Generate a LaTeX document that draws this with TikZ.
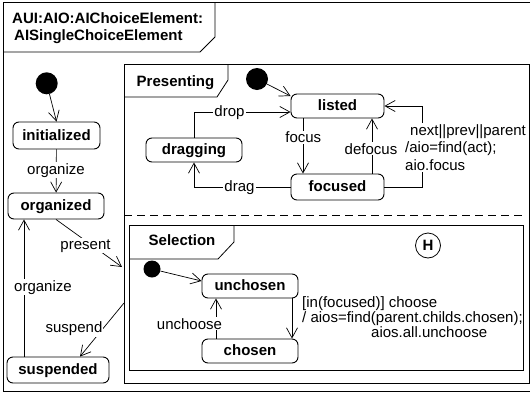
\documentclass[tikz,border=0pt]{standalone}
\usepackage{fontspec}
\setmainfont{Liberation Sans}
\usetikzlibrary{arrows.meta,calc}
\begin{document}
\begin{tikzpicture}[x=1pt,y=-1pt,
  every node/.style={font=\fontsize{15}{17}\selectfont},
  stbox/.style={draw, line width=0.9pt, rounded corners=6pt, inner sep=0pt,
    font=\bfseries\fontsize{15}{17}\selectfont, text height=10pt, text depth=0.5pt},
  lbl/.style={fill=white, inner sep=1pt},
  arr/.style={line width=0.7pt, -{Straight Barb[length=10pt,width=11pt]}},
  frame/.style={line width=0.8pt},
  initdot/.style={circle, fill=black, inner sep=0pt, minimum size=#1},
  hdr/.style={font=\bfseries\fontsize{15}{17}\selectfont, inner sep=0pt, anchor=base}
]
\useasboundingbox (0,0) rectangle (530,394);
% frames
\draw[frame] (534,2.5) -- (3,2.5) -- (3,391) -- (534,391);
\draw[frame] (3,52) -- (200,52) -- (215,37) -- (215,2.5);
\node[anchor=base west, align=left, inner sep=0pt, font=\bfseries\fontsize{15}{17}\selectfont] (title) at (12,40)
  {AUI:AIO:AIChoiceElement:\\\hspace*{2pt}AISingleChoiceElement};
\draw[frame] (124,64) rectangle (529,383);
\draw[frame] (124,97) -- (217,97) -- (228,80) -- (228,64);
\node[hdr] (presenting) at (175.5,86) {Presenting};
\draw[frame, dash pattern=on 8pt off 5pt] (124,215) -- (522,215);
\draw[frame] (129,225) rectangle (523,370);
\draw[frame] (129,259) -- (218,259) -- (234,242) -- (234,225);
\node[hdr] (selection) at (182,245.5) {Selection};

% left states
\node[initdot=22pt] (d1) at (46.7,83.3) {};
\node[stbox, minimum width=87pt, minimum height=27pt] (initialized) at (56.5,135.5) {initialized};
\node[stbox, minimum width=96pt, minimum height=26pt] (organized) at (56,206) {organized};
\node[stbox, minimum width=102pt, minimum height=26pt] (suspended) at (58,370) {suspended};

% presenting states
\node[initdot=22pt] (d2) at (257,79) {};
\node[stbox, minimum width=93pt, minimum height=24pt] (listed) at (337.5,106) {listed};
\node[stbox, minimum width=96pt, minimum height=24pt] (dragging) at (194,150) {dragging};
\node[stbox, minimum width=93pt, minimum height=26pt] (focused) at (337.5,187) {focused};

% selection states
\node[initdot=17pt] (d3) at (152,269) {};
\node[stbox, minimum width=96pt, minimum height=24pt] (unchosen) at (250,286) {unchosen};
\node[stbox, minimum width=96pt, minimum height=24pt] (chosen) at (250,351) {chosen};
\node[draw, circle, line width=0.8pt, minimum size=25pt, inner sep=0pt,
  font=\bfseries\fontsize{15}{17}\selectfont] (hist) at (428,245.5) {H};

% helper coordinates
\coordinate (orgx) at (24,0);
\coordinate (presentEnd) at (122,267);
\coordinate (suspStart) at (124,303);
\coordinate (focx) at (303,0);
\coordinate (defx) at (372,0);
\coordinate (nextx) at (422,150);
\coordinate (unchx) at (216,0);
\coordinate (choox) at (292,0);

% connectors
\draw[arr] (d1) -- (initialized.north);
\draw[arr] (initialized) -- (organized);
\draw[arr] (suspended.north -| orgx) -- (organized.south -| orgx);
\draw[arr] (organized.south) -- (presentEnd);
\draw[arr] (suspStart) -- ($(suspended.north)+(22,0)$);

\draw[arr] (d2) -- ($(listed.west)+(0,-10)$);
\draw[arr] (dragging.north) |- ($(listed.west)+(0,6)$);
\draw[arr] (focused.west) -| (dragging.south);
\draw[arr] (listed.south -| focx) -- (focused.north -| focx);
\draw[arr] (focused.north -| defx) -- (listed.south -| defx);
\draw[arr] (focused.east) -| (nextx) |- (listed.east);

\draw[arr] (d3) -- ($(unchosen.west)+(0,-5)$);
\draw[arr] (chosen.north -| unchx) -- (unchosen.south -| unchx);
\draw[arr] (unchosen.south -| choox) -- (chosen.north -| choox);

% labels
\node[lbl, anchor=base] (l1) at (56,174) {organize};
\node[lbl, anchor=base] (l2) at (43,291) {organize};
\node[lbl, anchor=base] (l3) at (85.5,249) {present};
\node[lbl, anchor=base] (l4) at (74,332.7) {suspend};
\node[lbl, anchor=base] (l5) at (229.5,116.5) {drop};
\node[lbl, anchor=base] (l6) at (239.5,191) {drag};
\node[lbl, anchor=base] (l7) at (303.3,142.7) {focus};
\node[lbl, anchor=base] (l8) at (371,154) {defocus};
\node[lbl, anchor=base west, align=left, font=\fontsize{15}{17.8}\selectfont] (l9) at (404,170.7)
  {\hspace*{5pt}next||prev||parent\\/aio=find(act);\\aio.focus};
\node[lbl, anchor=base] (l10) at (189.5,329) {unchoose};
\node[anchor=base west, align=left, inner sep=0pt, font=\fontsize{15}{13.8}\selectfont] (l11) at (302,337.5)
  {[in(focused)] choose\\/ aios=find(parent.childs.chosen);\\\hspace*{69pt}aios.all.unchoose};
\end{tikzpicture}
\end{document}
